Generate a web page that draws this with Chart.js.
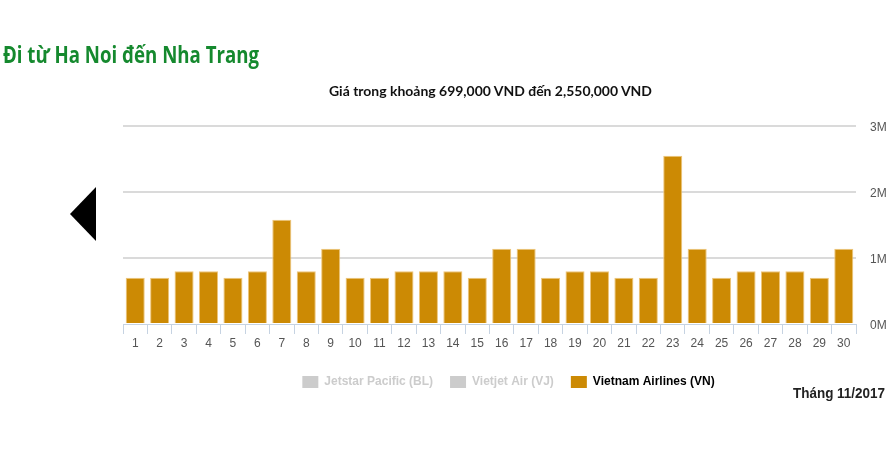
<!DOCTYPE html>
<html>
<head>
<meta charset="utf-8">
<script src="https://cdn.jsdelivr.net/npm/chart.js@4.4.1/dist/chart.umd.min.js"></script>
<style>
  html, body { margin: 0; padding: 0; background: #fff; }
  #wrap { position: relative; width: 894px; height: 471px; overflow: hidden; }
  #chartBox { position: absolute; left: 0; top: 0; width: 894px; height: 471px; }
  .txt { position: absolute; white-space: nowrap; line-height: 1; transform-origin: left top; }
  #heading { left: 3px; top: 43px; font-family: "Open Sans", sans-serif; font-weight: 700; font-size: 23px; color: #15892e; }
  #subtitle { top: 85px; font-family: "Lato", sans-serif; font-weight: 700; font-size: 13.5px; color: #111; }
  #month { top: 386px; font-family: "Liberation Sans", Arial, sans-serif; font-weight: 700; font-size: 14px; color: #222; }
  #arrow { position: absolute; left: 70px; top: 187px; width: 0; height: 0;
           border-top: 27px solid transparent; border-bottom: 27px solid transparent; border-right: 26px solid #000; }
</style>
</head>
<body>
<div id="wrap">
  <div id="chartBox"><canvas id="c"></canvas></div>
  <div id="heading" class="txt">Đi từ Ha Noi đến Nha Trang</div>
  <div id="subtitle" class="txt">Giá trong khoảng 699,000 VND đến 2,550,000 VND</div>
  <div id="month" class="txt">Tháng 11/2017</div>
  <div id="arrow"></div>
</div>
<script>
// ---- data ----
const days = ["1","2","3","4","5","6","7","8","9","10","11","12","13","14","15",
              "16","17","18","19","20","21","22","23","24","25","26","27","28","29","30"];
const airlines = ["Jetstar Pacific (BL)", "Vietjet Air (VJ)", "Vietnam Airlines (VN)"];
const jetstarPrices = [];
const vietjetPrices = [];
const vietnamAirlinesPrices = [699000, 699000, 799000, 799000, 699000, 799000, 1579000, 799000, 1139000, 699000,
                               699000, 799000, 799000, 799000, 699000, 1139000, 1139000, 699000, 799000, 799000,
                               699000, 699000, 2550000, 1139000, 699000, 799000, 799000, 799000, 699000, 1139000];
const yTickValues = [0, 1000000, 2000000, 3000000];

// ---- text fitting ----
function fitWidth(id, target, left, center) {
  const el = document.getElementById(id);
  const w = el.getBoundingClientRect().width;
  const s = target / w;
  el.style.transform = 'scaleX(' + s + ')';
  if (center !== undefined) el.style.left = (center - target / 2) + 'px';
  else if (left !== undefined) el.style.left = left + 'px';
}
fitWidth('heading', 256, 3);
fitWidth('subtitle', 323, undefined, 490);
fitWidth('month', 92, 793);

const VN_COLOR = '#cc8a04';
const GREY = '#cccccc';

new Chart(document.getElementById('c'), {
  type: 'bar',
  data: {
    labels: days,
    datasets: [
      { label: airlines[0], data: jetstarPrices, hidden: true, backgroundColor: GREY },
      { label: airlines[1], data: vietjetPrices, hidden: true, backgroundColor: GREY },
      { label: airlines[2], data: vietnamAirlinesPrices, backgroundColor: VN_COLOR,
        borderColor: '#eec57a', borderWidth: 1, borderSkipped: 'bottom',
        barPercentage: 0.78, categoryPercentage: 1.0 }
    ]
  },
  options: {
    responsive: true,
    maintainAspectRatio: false,
    animation: false,
    layout: { padding: { left: 123, right: 0, top: 126, bottom: 73 } },
    scales: {
      x: {
        grid: { display: true, drawOnChartArea: false, drawTicks: true, tickLength: 10, color: '#c6d3e2', offset: true },
        border: { display: true, color: '#c6d3e2', width: 1 },
        ticks: { font: { family: 'Liberation Sans', size: 12 }, color: '#555', padding: 2, maxRotation: 0, autoSkip: false },
        afterFit: s => { s.height = 35; }
      },
      y: {
        position: 'right',
        min: 0, max: 3000000,
        afterBuildTicks: s => { s.ticks = yTickValues.map(v => ({ value: v })); },
        grid: { drawTicks: false, lineWidth: 2,
                color: ctx => (ctx.tick && ctx.tick.value === 0) ? 'rgba(0,0,0,0)' : '#dadada' },
        border: { display: false },
        ticks: { font: { family: 'Liberation Sans', size: 12 }, color: '#555', padding: 14, labelOffset: 2,
                 callback: v => (v / 1000000) + 'M' },
        afterFit: s => { s.width = 38; }
      }
    },
    plugins: {
      title: { display: false },
      tooltip: { enabled: true },
      legend: {
        position: 'bottom',
        align: 'center',
        labels: {
          boxWidth: 16, boxHeight: 12, padding: 17,
          font: { family: 'Liberation Sans', size: 12, weight: 'bold' },
          generateLabels: chart => chart.data.datasets.map((ds, i) => {
            const vis = chart.isDatasetVisible(i);
            return {
              text: ds.label,
              fillStyle: vis ? ds.backgroundColor : GREY,
              strokeStyle: vis ? ds.backgroundColor : GREY,
              lineWidth: 0,
              hidden: false,
              fontColor: vis ? '#000' : GREY,
              datasetIndex: i
            };
          })
        }
      }
    }
  }
});
</script>
</body>
</html>
